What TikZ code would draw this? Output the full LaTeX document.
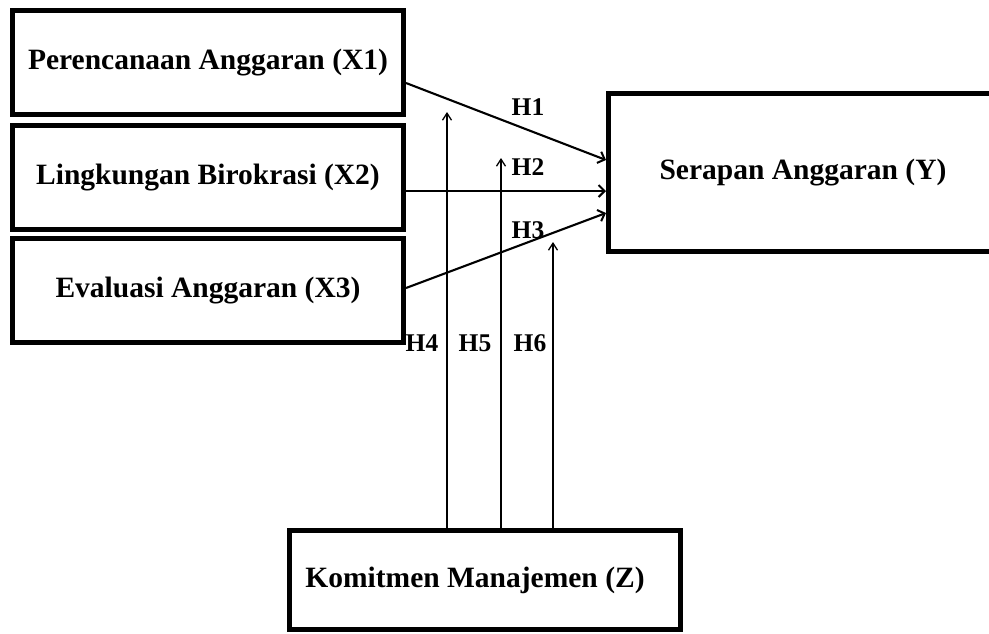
\documentclass[tikz,border=0pt]{standalone}
\usepackage{fontspec}
\setmainfont{Liberation Serif}
\usetikzlibrary{arrows.meta,calc}
\begin{document}
\begin{tikzpicture}[x=1pt,y=-1pt,
  varbox/.style={draw,line width=5pt,rectangle,inner sep=0pt,
     font=\bfseries\fontsize{29.5}{32}\selectfont},
  hlabel/.style={inner sep=0pt,font=\bfseries\fontsize{25.5}{28}\selectfont},
  patharrow/.style={line width=2.1pt,-{Straight Barb[length=6pt,width=12pt,line width=2pt]}},
  modarrow/.style={line width=1.3pt,-{Straight Barb[length=7pt,width=9pt,line width=1.3pt]}}]
\useasboundingbox (0,0) rectangle (989,633);
\clip (0,0) rectangle (989,633);
% variable boxes
\node[varbox,minimum width=391pt,minimum height=104pt] (X1) at (208,62.5) {Perencanaan Anggaran (X1)};
\node[varbox,minimum width=391pt,minimum height=104pt] (X2) at (208,177.5) {Lingkungan Birokrasi (X2)};
\node[varbox,minimum width=391pt,minimum height=104pt] (X3) at (208,290.5) {\raisebox{-4pt}{Evaluasi Anggaran (X3)}};
\node[varbox,minimum width=389pt,minimum height=158pt] (Y) at (803,172.5) {Serapan Anggaran (Y)};
\node[varbox,minimum width=391pt,minimum height=99pt] (Z) at (485,580) {\raisebox{-5pt}{\hspace*{-20pt}Komitmen Manajemen (Z)}};
% direct paths
\draw[patharrow] ([yshift=-20.5pt]X1.east) -- ([yshift=12.5pt]Y.west);
\draw[patharrow] ([yshift=-13.5pt]X2.east) -- ([yshift=-18.5pt]Y.west);
\draw[patharrow] ([yshift=2.5pt]X3.east) -- ([yshift=-40.5pt]Y.west);
% moderation arrows
\coordinate (t4) at (447,112);
\coordinate (t5) at (501,158);
\coordinate (t6) at (553,242);
\draw[modarrow] (Z.north -| t4) -- (t4);
\draw[modarrow] (Z.north -| t5) -- (t5);
\draw[modarrow] (Z.north -| t6) -- (t6);
% labels
\node[hlabel] (H1) at (528,107) {H1};
\node[hlabel] (H2) at (528,167) {H2};
\node[hlabel] (H3) at (528,230) {H3};
\node[hlabel] (H4) at (422,343) {H4};
\node[hlabel] (H5) at (475,343) {H5};
\node[hlabel] (H6) at (530,343) {H6};
\end{tikzpicture}
\end{document}
